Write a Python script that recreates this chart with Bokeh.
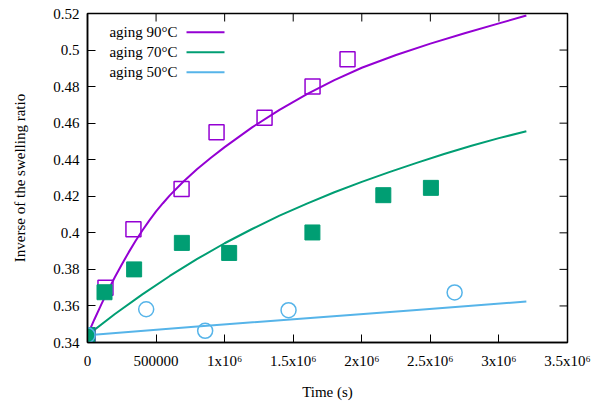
from bokeh.plotting import figure
from bokeh.models import LinearAxis, FixedTicker, Range1d
from bokeh.core.properties import value
from bokeh.embed import file_html
from bokeh.resources import INLINE

# ---------------- data ----------------
series_names = ["aging 90°C", "aging 70°C", "aging 50°C"]
series_colors = ["#9400D3", "#009E73", "#56B4E9"]

# measured points (time in s, inverse swelling ratio)
t90 = [0, 131000, 335000, 686000, 941000, 1291000, 1641000, 1896000]
y90 = [0.344, 0.370, 0.402, 0.424, 0.455, 0.463, 0.480, 0.495]

t70 = [0, 124000, 340000, 688000, 1033000, 1640000, 2157000, 2504000]
y70 = [0.344, 0.3675, 0.380, 0.3945, 0.389, 0.4002, 0.4206, 0.4246]

t50 = [0, 428000, 858000, 1466000, 2677000]
y50 = [0.344, 0.3582, 0.3464, 0.3577, 0.3674]

# fitted curves
fit90_t = [0, 50000, 100000, 150000, 200000, 250000, 300000, 350000, 400000,
           450000, 500000, 550000, 600000, 700000, 800000, 900000, 1000000,
           1200000, 1400000, 1600000, 1800000, 2000000, 2250000, 2500000,
           2750000, 3000000, 3200000]
fit90_y = [0.344, 0.3526, 0.3607, 0.3685, 0.3758, 0.3827, 0.3893, 0.3955,
           0.4013, 0.4067, 0.4117, 0.4162, 0.4205, 0.4281, 0.4349, 0.4411,
           0.4469, 0.4577, 0.4673, 0.4759, 0.4835, 0.4903, 0.4973, 0.5035,
           0.5092, 0.5146, 0.5189]

fit70_t = [0, 200000, 400000, 600000, 800000, 1000000, 1200000, 1400000,
           1600000, 1800000, 2000000, 2200000, 2400000, 2600000, 2800000,
           3000000, 3200000]
fit70_y = [0.344, 0.3556, 0.3663, 0.3764, 0.3857, 0.3943, 0.4021, 0.4094,
           0.4160, 0.4222, 0.4279, 0.4332, 0.4383, 0.4431, 0.4476, 0.4518,
           0.4556]

fit50_t = [0, 800000, 1600000, 2400000, 3200000]
fit50_y = [0.344, 0.3488, 0.3533, 0.3578, 0.3624]

x_ticks = [0, 500000, 1000000, 1500000, 2000000, 2500000, 3000000, 3500000]
x_tick_labels = ["0", "500000", "1x10⁶", "1.5x10⁶", "2x10⁶", "2.5x10⁶",
                 "3x10⁶", "3.5x10⁶"]
y_ticks = [0.34, 0.36, 0.38, 0.40, 0.42, 0.44, 0.46, 0.48, 0.50, 0.52]
y_tick_labels = ["0.34", "0.36", "0.38", "0.4", "0.42", "0.44", "0.46",
                 "0.48", "0.5", "0.52"]

# ---------------- figure ----------------
FONT = "Liberation Serif"
FS = "15px"
X0, X1, Y0, Y1 = 0, 3.5e6, 0.34, 0.52
W, H = 602, 403
BL, BR, BT, BB = 87, 35, 13, 61
TICK = 8  # px

p = figure(width=W, height=H, output_backend="svg", toolbar_location=None,
           x_range=Range1d(X0, X1), y_range=Range1d(Y0, Y1),
           x_axis_type=None, y_axis_type=None,
           min_border_left=BL, min_border_right=BR,
           min_border_top=BT, min_border_bottom=BB)
p.outline_line_color = "black"
p.outline_line_width = 1.5
p.background_fill_color = "white"
p.border_fill_color = "white"


def style_axis(ax):
    ax.major_tick_in = TICK
    ax.major_tick_out = 0
    ax.minor_tick_line_color = None
    ax.axis_line_color = "black"
    ax.axis_line_width = 1.5
    ax.major_tick_line_color = "black"
    ax.major_tick_line_width = 1
    ax.major_label_text_font = FONT
    ax.major_label_text_font_size = FS
    ax.major_label_text_color = "black"
    ax.axis_label_text_font = FONT
    ax.axis_label_text_font_size = FS
    ax.axis_label_text_font_style = "normal"
    ax.axis_label_text_color = "black"


xb = LinearAxis(ticker=FixedTicker(ticks=x_ticks),
                major_label_overrides=dict(zip(x_ticks, x_tick_labels)),
                axis_label="Time (s)")
style_axis(xb)
xb.major_label_standoff = 10
xb.axis_label_standoff = 12
p.add_layout(xb, "below")

yl = LinearAxis(ticker=FixedTicker(ticks=y_ticks),
                major_label_overrides=dict(zip(y_ticks, y_tick_labels)),
                axis_label="Inverse of the swelling ratio")
style_axis(yl)
yl.major_label_standoff = 8
yl.axis_label_standoff = 22
p.add_layout(yl, "left")

# mirrored ticks on the top and right border (gnuplot style)
fw = W - BL - BR
fh = H - BT - BB
dx = TICK * (X1 - X0) / fw
dy = TICK * (Y1 - Y0) / fh
p.segment(x0=x_ticks, y0=[Y1] * len(x_ticks), x1=x_ticks,
          y1=[Y1 - dy] * len(x_ticks), line_color="black", line_width=1)
p.segment(x0=[X1] * len(y_ticks), y0=y_ticks, x1=[X1 - dx] * len(y_ticks),
          y1=y_ticks, line_color="black", line_width=1)

# fitted curves
for ft, fy, c in [(fit90_t, fit90_y, series_colors[0]),
                  (fit70_t, fit70_y, series_colors[1]),
                  (fit50_t, fit50_y, series_colors[2])]:
    p.line(ft, fy, line_color=c, line_width=2, line_join="round")

# measured points
p.scatter(t90, y90, marker="square", size=15, fill_color=None,
          line_color=series_colors[0], line_width=1.5)
p.scatter(t70, y70, marker="square", size=15, fill_color=series_colors[1],
          line_color=series_colors[1], line_width=1)
p.scatter(t50, y50, marker="circle", size=15, fill_color=None,
          line_color=series_colors[2], line_width=1.5)

# gnuplot-style key: text right-aligned, then a line sample
key_text_x = 656000
key_x0, key_x1 = 722000, 999000
key_rows = [0.5098, 0.4988, 0.4879]
p.text(x=[key_text_x] * 3, y=key_rows, text=series_names,
       text_align="right", text_baseline="middle",
       text_font=value(FONT), text_font_size=FS, text_color="black")
p.segment(x0=[key_x0] * 3, y0=key_rows, x1=[key_x1] * 3, y1=key_rows,
          line_color=series_colors, line_width=2)

open("out.html", "w").write(file_html(p, INLINE))
